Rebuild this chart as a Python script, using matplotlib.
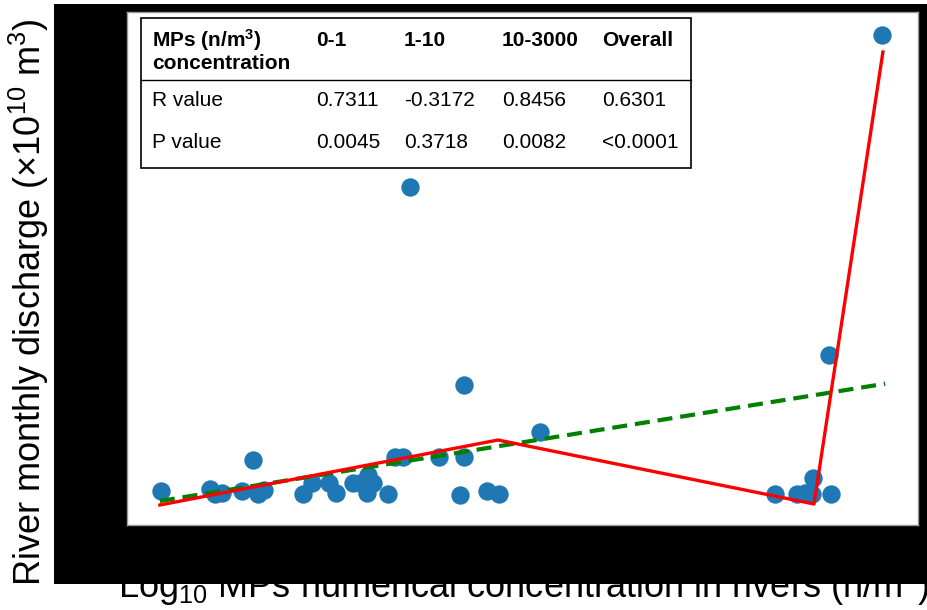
import matplotlib.pyplot as plt
from matplotlib.patches import Rectangle

plt.rcParams['font.family'] = ['Liberation Sans', 'DejaVu Sans']
plt.rcParams['mathtext.fontset'] = 'custom'
plt.rcParams['mathtext.rm'] = 'Liberation Sans'
plt.rcParams['mathtext.it'] = 'Liberation Sans'
plt.rcParams['mathtext.bf'] = 'Liberation Sans:bold'

# log10 MPs concentration (n/m3) and river monthly discharge (x1e10 m3)
log_conc = [-1.066, -0.911, -0.896, -0.873, -0.810, -0.775, -0.759, -0.741,
            -0.617, -0.589, -0.535, -0.513, -0.459, -0.437, -0.411, -0.396,
            -0.415, -0.348, -0.326, -0.301, -0.278, -0.187, -0.108, -0.108,
            -0.120, -0.035, 0.003, 0.133, 0.877, 0.946, 0.972, 0.997,
            0.994, 1.054, 1.047, 1.215]
discharge = [0.19, 0.21, 0.16, 0.17, 0.19, 0.50, 0.16, 0.20,
             0.16, 0.27, 0.27, 0.17, 0.27, 0.27, 0.35, 0.27,
             0.17, 0.16, 0.53, 0.53, 3.23, 0.53, 0.53, 1.25,
             0.15, 0.19, 0.16, 0.78, 0.16, 0.16, 0.17, 0.32,
             0.16, 0.16, 1.55, 4.75]

# overall linear fit
fit_x = [-1.070, 1.225]
fit_slope = 0.511
fit_intercept = 0.637

# piecewise fit (breaks at 1 and 10 n/m3)
piece_x = [-1.070, 0.0, 1.0, 1.218]
piece_y = [0.05, 0.70, 0.06, 4.58]

# statistics table
table_header = ['0-1', '1-10', '10-3000', 'Overall']
r_values = ['0.7311', '-0.3172', '0.8456', '0.6301']
p_values = ['0.0045', '0.3718', '0.0082', '<0.0001']

fig = plt.figure(figsize=(9.28, 6.10), dpi=100)

# black frame behind the plot
fig.add_artist(Rectangle((54 / 928, 1 - 584 / 610), 874 / 928, 580 / 610,
                         transform=fig.transFigure, facecolor='black',
                         edgecolor='none', zorder=1))

ax = fig.add_axes([127 / 928, 85 / 610, 791 / 928, 513 / 610])
ax.set_zorder(2)

fit_y = [fit_slope * x + fit_intercept for x in fit_x]
ax.scatter(log_conc, discharge, s=175, color='#1f77b4', zorder=3, linewidths=0)
ax.plot(fit_x, fit_y, color='green', lw=3, dashes=(3.6, 1.9), zorder=4)
ax.plot(piece_x, piece_y, color='red', lw=2.4, zorder=5)

ax.set_xlim(-1.174, 1.329)
ax.set_ylim(-0.15, 4.98)
ax.set_xticks([])
ax.set_yticks([])
for sp in ax.spines.values():
    sp.set_color('#999999')
    sp.set_linewidth(1)

# table drawn inside the axes
ax.add_patch(Rectangle((0.0177, 0.696), 0.695, 0.292, transform=ax.transAxes,
                       fill=False, edgecolor='black', lw=1.2, zorder=6))
ax.plot([0.0177, 0.7127], [0.867, 0.867], transform=ax.transAxes,
        color='black', lw=1, zorder=6)
col_x = [0.239, 0.350, 0.474, 0.6005]
fs = 15
ax.text(0.0316, 0.945, r'MPs (n/m$^{\mathbf{3}}$)', transform=ax.transAxes,
        fontsize=fs, fontweight='bold', va='center', zorder=7)
ax.text(0.0316, 0.899, 'concentration', transform=ax.transAxes,
        fontsize=fs, fontweight='bold', va='center', zorder=7)
ax.text(0.0316, 0.828, 'R value', transform=ax.transAxes, fontsize=fs,
        va='center', zorder=7)
ax.text(0.0316, 0.745, 'P value', transform=ax.transAxes, fontsize=fs,
        va='center', zorder=7)
for x, h, r, p in zip(col_x, table_header, r_values, p_values):
    ax.text(x, 0.945, h, transform=ax.transAxes, fontsize=fs,
            fontweight='bold', va='center', zorder=7)
    ax.text(x, 0.828, r, transform=ax.transAxes, fontsize=fs, va='center', zorder=7)
    ax.text(x, 0.745, p, transform=ax.transAxes, fontsize=fs, va='center', zorder=7)

# axis labels (x label partly hidden by the black frame, as in the original)
fig.text(524 / 928, 1 - 598 / 610,
         r'Log$_{10}$ MPs numerical concentration in rivers (n/m$^{3}$)',
         fontsize=26, ha='center', va='baseline', zorder=0.5)
fig.text(29 / 928, 1 - 302 / 610,
         r'River monthly discharge ($\times$10$^{10}$ m$^{3}$)',
         fontsize=26, rotation=90, ha='center', va='center')

plt.savefig('out.png', dpi=100)
